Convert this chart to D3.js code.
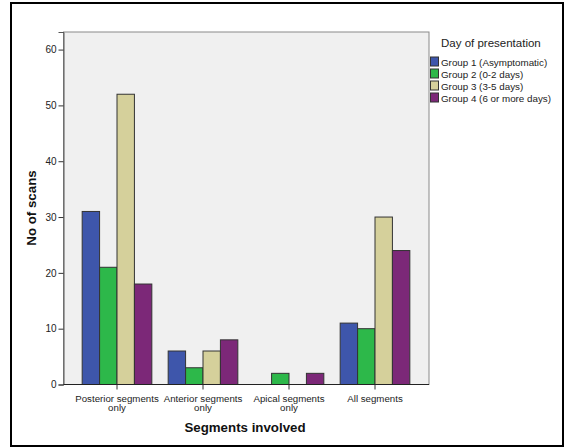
<!DOCTYPE html>
<html><head><meta charset="utf-8">
<script src="https://cdn.jsdelivr.net/npm/d3@7"></script>
<style>body{margin:0;background:#fff}svg{display:block}text{font-family:"Liberation Sans",Arial,sans-serif}</style>
</head><body><svg id="c" width="566" height="448"></svg>
<script>
const categories = ["Posterior segments only","Anterior segments only","Apical segments only","All segments"];
const categoryLines = [["Posterior segments","only"],["Anterior segments","only"],["Apical segments","only"],["All segments"]];
const groups = ["Group 1 (Asymptomatic)","Group 2 (0-2 days)","Group 3 (3-5 days)","Group 4 (6 or more days)"];
const group1 = [31, 6, 0, 11];
const group2 = [21, 3, 2, 10];
const group3 = [52, 6, 0, 30];
const group4 = [18, 8, 2, 24];
const yTicks = [0, 10, 20, 30, 40, 50, 60];
const colors = ["#3e56ab", "#2db84a", "#d5d09b", "#7c2878"];
const series = [group1, group2, group3, group4];

const svg = d3.select("#c");
svg.append("rect").attr("x",11).attr("y",3).attr("width",552).attr("height",443)
  .attr("fill","#fff").attr("stroke","#000").attr("stroke-width",2);

const plot = {l:63.5, r:429, t:32, b:384.5};
svg.append("rect").attr("x",plot.l).attr("y",plot.t).attr("width",plot.r-plot.l).attr("height",plot.b-plot.t)
  .attr("fill","#f0f0f0").attr("stroke","#8a8a8a").attr("stroke-width",1);

const y = d3.scaleLinear().domain([0, 63.15]).range([plot.b, plot.t]);
const x = d3.scaleBand().domain(categories).range([74, 418]).paddingInner(0.19).paddingOuter(0.095);
const xs = d3.scaleBand().domain(groups).range([0, x.bandwidth()]);

const data = [];
categories.forEach((c,i)=>groups.forEach((g,j)=>data.push({c, g, j, v: series[j][i]})));
svg.append("g").selectAll("rect").data(data.filter(d=>d.v>0)).join("rect")
  .attr("x", d=>x(d.c)+xs(d.g)).attr("width", xs.bandwidth())
  .attr("y", d=>y(d.v)).attr("height", d=>y(0)-y(d.v))
  .attr("fill", d=>colors[d.j]).attr("stroke","#333").attr("stroke-width",1);

// y axis
const ya = svg.append("g").attr("transform",`translate(${plot.l},0)`)
  .call(d3.axisLeft(y).tickValues(yTicks).tickSize(5).tickPadding(2));
ya.select(".domain").attr("stroke","#555");
ya.selectAll(".tick line").attr("stroke","#333");
ya.selectAll("text").attr("font-size",10).attr("fill","#222");

// x axis
const xa = svg.append("g").attr("transform",`translate(0,${plot.b})`)
  .call(d3.axisBottom(x).tickSize(5).tickFormat(""));
xa.select(".domain").attr("d",`M${plot.l},0H${plot.r}`).attr("stroke","#222");
xa.selectAll(".tick line").attr("stroke","#333");
xa.selectAll(".tick").each(function(d,i){
  const t = d3.select(this).append("text").attr("fill","#222").attr("font-size",9.7).attr("text-anchor","middle");
  categoryLines[i].forEach((s,k)=>t.append("tspan").attr("x",0).attr("y",17+k*9.5).text(s));
});

svg.append("text").attr("x",245).attr("y",432).attr("text-anchor","middle")
  .attr("font-size",13.3).attr("font-weight","bold").attr("fill","#111").text("Segments involved");
svg.append("text").attr("transform","translate(36,208) rotate(-90)").attr("text-anchor","middle")
  .attr("font-size",13.3).attr("font-weight","bold").attr("fill","#111").text("No of scans");

// legend
const lg = svg.append("g");
lg.append("text").attr("x",441).attr("y",47).attr("font-size",11.5).attr("fill","#222").text("Day of presentation");
groups.forEach((g,j)=>{
  const yy = 57 + j*12;
  lg.append("rect").attr("x",430.5).attr("y",yy).attr("width",8).attr("height",9)
    .attr("fill",colors[j]).attr("stroke","#333").attr("stroke-width",1);
  lg.append("text").attr("x",441).attr("y",yy+8.5).attr("font-size",9.8).attr("fill","#222").text(g);
});
</script></body></html>
